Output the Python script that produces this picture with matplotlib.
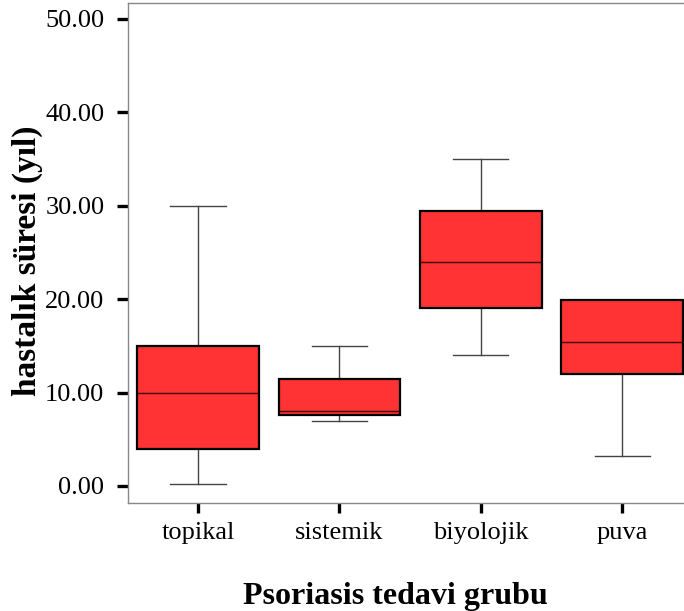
import matplotlib
matplotlib.use("Agg")
import matplotlib.pyplot as plt

# values (years)
groups = ["topikal", "sistemik", "biyolojik", "puva"]
whisker_low = [0.2, 7.0, 14.0, 3.2]
q1 = [4.0, 7.6, 19.0, 12.0]
medians = [10.0, 8.0, 24.0, 15.4]
q3 = [15.0, 11.5, 29.4, 19.9]
whisker_high = [30.0, 15.0, 35.0, 19.9]
y_ticks = [0, 10, 20, 30, 40, 50]

plt.rcParams["font.family"] = ["Liberation Serif", "DejaVu Serif"]


def make_stats():
    stats = []
    for i in range(len(groups)):
        stats.append({
            "label": groups[i],
            "whislo": whisker_low[i],
            "q1": q1[i],
            "med": medians[i],
            "q3": q3[i],
            "whishi": whisker_high[i],
            "fliers": [],
        })
    return stats


fig = plt.figure(figsize=(6.84, 6.11), dpi=100)
ax = fig.add_axes([0.1871, 0.1768, 0.826, 0.8183])

# caps sit under the boxes so a whisker that ends on the box edge stays hidden
ax.bxp(make_stats(), positions=[1, 2, 3, 4], widths=0.86, capwidths=0.39,
       patch_artist=True, showfliers=False,
       boxprops=dict(facecolor="#ff3333", edgecolor="black", linewidth=1.6, zorder=3),
       medianprops=dict(color="#3a0505", linewidth=1.0, zorder=4),
       whiskerprops=dict(color="#444444", linewidth=1.0, zorder=2),
       capprops=dict(color="#444444", linewidth=1.0, zorder=2))

ax.set_xlim(0.505, 4.5)
ax.set_ylim(-1.82, 51.7)
ax.set_yticks(y_ticks)
ax.set_yticklabels(["%.2f" % v for v in y_ticks])
ax.set_xticks([1, 2, 3, 4])
ax.set_xticklabels(groups)

for side in ["left", "bottom", "top", "right"]:
    ax.spines[side].set_color("#888888")
    ax.spines[side].set_linewidth(1.0)

ax.tick_params(axis="y", length=8, width=2.4, color="black", pad=9, labelsize=19)
ax.tick_params(axis="x", length=7.5, width=2.4, color="black", pad=6, labelsize=19)

fig.text(0.0395, 0.573, "hastalık süresi (yıl)", rotation=90, ha="center", va="center",
         fontsize=24, fontweight="bold")
fig.text(0.5775, 0.012, "Psoriasis tedavi grubu", ha="center", va="baseline",
         fontsize=23, fontweight="bold")

fig.savefig("out.png", dpi=100)
